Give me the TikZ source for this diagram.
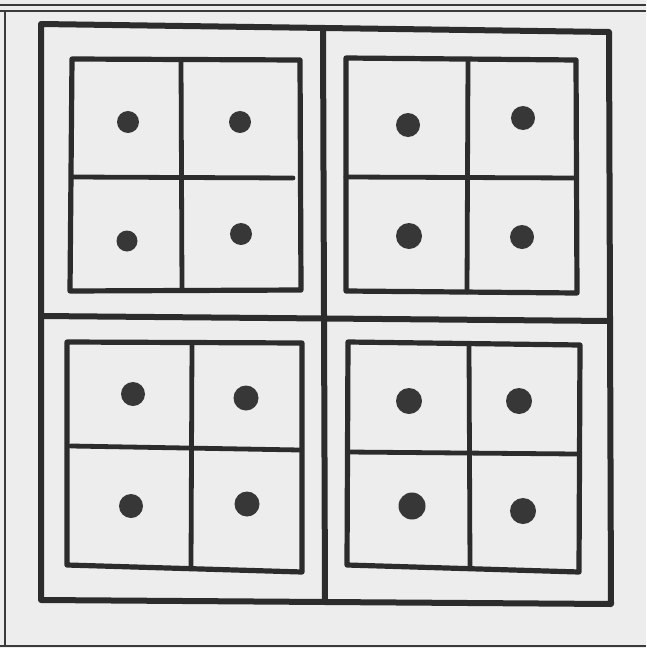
\documentclass[tikz,border=0pt]{standalone}
\definecolor{paper}{HTML}{EDEDEE}
\definecolor{ink}{HTML}{2C2C2C}
\definecolor{frame}{HTML}{3A3A3A}
\tikzset{
  pageline/.style={draw=frame, line width=1.5pt},
  bigline/.style={draw=ink, line width=6pt, line cap=round, line join=round},
  boxline/.style={draw=ink, line width=5.2pt, line cap=round, line join=round},
  crossline/.style={draw=ink, line width=4.8pt, line cap=round},
  dot/.style={fill=ink!95, draw=none}
}
\begin{document}
\begin{tikzpicture}[x=1pt,y=-1pt]
\fill[paper] (0,0) rectangle (646,648);
\useasboundingbox (0,0) rectangle (646,648);
% page frame
\draw[pageline] (0,5) -- (646,5);
\draw[pageline] (0,11) -- (646,11);
\draw[pageline] (5,11) -- (5,646);
\draw[pageline] (0,646) -- (646,646);
% outer square
\draw[bigline] (41,24) -- (609,32) -- (611,604) -- (41,600) -- cycle;
\draw[bigline] (41,316) -- (610,321);
\draw[bigline] (323,28) -- (325,602);
% TL quadrant
\draw[boxline] (72,59) -- (300,60) -- (301,290) -- (70,291) -- cycle;
\draw[crossline] (181,60) -- (182,290);
\draw[crossline] (72,177) -- (293,178);
\fill[dot] (128,122) circle [radius=11pt];
\fill[dot] (240,122) circle [radius=11pt];
\fill[dot] (127,241) circle [radius=10.5pt];
\fill[dot] (241,234) circle [radius=11pt];
% TR quadrant
\draw[boxline] (346,58) -- (576,60) -- (577,293) -- (346,291) -- cycle;
\draw[crossline] (468,60) -- (467,292);
\draw[crossline] (346,177) -- (576,178);
\fill[dot] (408,125) circle [radius=12pt];
\fill[dot] (523,118) circle [radius=12pt];
\fill[dot] (409,236) circle [radius=13pt];
\fill[dot] (522,237) circle [radius=12pt];
% BL quadrant
\draw[boxline] (67,342) -- (302,343) -- (302,572) -- (67,565) -- cycle;
\draw[crossline] (192,343) -- (191,566);
\draw[crossline] (71,446) -- (300,450);
\fill[dot] (133,394) circle [radius=12pt];
\fill[dot] (246,398) circle [radius=12.5pt];
\fill[dot] (131,506) circle [radius=12pt];
\fill[dot] (247,504) circle [radius=12.5pt];
% BR quadrant
\draw[boxline] (348,342) -- (580,345) -- (579,572) -- (347,565) -- cycle;
\draw[crossline] (469,346) -- (470,568);
\draw[crossline] (348,452) -- (577,454);
\fill[dot] (409,401) circle [radius=13pt];
\fill[dot] (519,401) circle [radius=13pt];
\fill[dot] (412,506) circle [radius=13.5pt];
\fill[dot] (523,511) circle [radius=13pt];
\end{tikzpicture}
\end{document}
